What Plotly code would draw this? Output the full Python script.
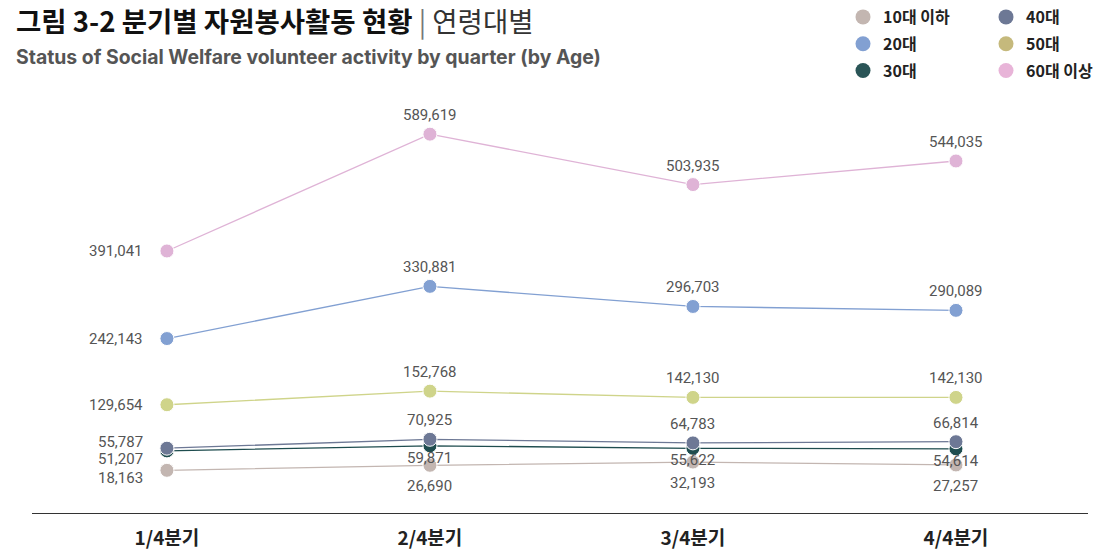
import plotly.graph_objects as go

quarters = ["1/4분기", "2/4분기", "3/4분기", "4/4분기"]
series_names = ["10대 이하", "20대", "30대", "40대", "50대", "60대 이상"]

v_10s = [18163, 26690, 32193, 27257]
v_20s = [242143, 330881, 296703, 290089]
v_30s = [51207, 59871, 55622, 54614]
v_40s = [55787, 70925, 64783, 66814]
v_50s = [129654, 152768, 142130, 142130]
v_60s = [391041, 589619, 503935, 544035]

values = [v_10s, v_20s, v_30s, v_40s, v_50s, v_60s]
line_colors = ["#c3b6b1", "#82a0d2", "#1f4d4f", "#6d7895", "#cfd48a", "#dfb3d6"]
legend_colors = ["#c3b6b1", "#82a0d2", "#2a5557", "#6d7895", "#c5b97c", "#e8b4d8"]
# vertical offset (px) of labels for quarters 2..4 (positive = above the point)
label_shift = [-21, 19, -12, 19, 19, 19]
# vertical nudge of the first-quarter (left side) labels, in px
first_shift = [-8, 0, -8, 6, 0, 0]

W, H = 1107, 554
ML, MR, MT, MB = 32, 19, 100, 41
PW, PH = W - ML - MR, H - MT - MB

def px_x(px):
    return (px - ML) / PW

def px_y(py):
    return (H - MB - py) / PH

fig = go.Figure()
annotations = []
LABEL_FONT = dict(family="Roboto", size=15, color="#555555")

for name, vals, col, ls, fs in zip(series_names, values, line_colors, label_shift, first_shift):
    fig.add_trace(go.Scatter(
        x=quarters, y=vals, mode="lines+markers", name=name, showlegend=False,
        line=dict(color=col, width=1.3),
        marker=dict(size=14, color=col, line=dict(color="white", width=1)),
        hoverinfo="skip",
    ))
    for i, (q, v) in enumerate(zip(quarters, vals)):
        txt = f"{v:,}"
        if i == 0:
            annotations.append(dict(x=q, y=v, xref="x", yref="y", text=txt, showarrow=False,
                                    xanchor="right", yanchor="middle", xshift=-22, yshift=fs,
                                    font=LABEL_FONT))
        else:
            annotations.append(dict(x=q, y=v, xref="x", yref="y", text=txt, showarrow=False,
                                    xanchor="center", yanchor="middle",
                                    yshift=ls, font=LABEL_FONT))

# legend dummy traces
for k, (name, col) in enumerate(zip(series_names, legend_colors)):
    fig.add_trace(go.Scatter(
        x=[None], y=[None], mode="markers", name=name,
        marker=dict(size=15, color=col),
        legend="legend" if k < 3 else "legend2",
        legendgroup=name,
    ))

legend_common = dict(
    orientation="v", xref="container", yref="paper", yanchor="top", xanchor="left",
    y=px_y(0),
    font=dict(family="Noto Sans CJK KR", size=16, color="#222222", weight="bold"),
    bgcolor="rgba(0,0,0,0)", borderwidth=0, tracegroupgap=3, itemclick=False,
)

annotations.append(dict(
    xref="paper", yref="paper", x=px_x(14), y=px_y(20), xanchor="left", yanchor="middle",
    showarrow=False,
    text="<b>그림 3-2 분기별 자원봉사활동 현황</b> <span style='color:#777777'>|</span> <span style='color:#333333'>연령대별</span>",
    font=dict(family="Noto Sans CJK KR", size=27.5, color="#111111"),
))
annotations.append(dict(
    xref="paper", yref="paper", x=px_x(14), y=px_y(57), xanchor="left", yanchor="middle",
    showarrow=False,
    text="<b>Status of Social Welfare volunteer activity by quarter (by Age)</b>",
    font=dict(family="Inter", size=19.4, color="#555555"),
))

fig.update_layout(
    width=W, height=H,
    margin=dict(l=ML, r=MR, t=MT, b=MB, autoexpand=False),
    paper_bgcolor="white", plot_bgcolor="white",
    xaxis=dict(
        type="category", range=[-0.513, 3.502], showgrid=False, zeroline=False,
        showline=True, linecolor="#333333", linewidth=1.2, ticks="", ticklabelstandoff=8,
        tickfont=dict(family="Noto Sans CJK KR", size=19, color="#222222", weight="bold"),
    ),
    yaxis=dict(range=[-54400, 647700], visible=False, showgrid=False, zeroline=False),
    legend=dict(x=843 / W, **legend_common),
    legend2=dict(x=986 / W, **legend_common),
    annotations=annotations,
    hovermode=False,
)

fig.write_html("out.html", config={"displayModeBar": False},
               post_script="document.body.style.margin='0';document.body.style.padding='0';")
